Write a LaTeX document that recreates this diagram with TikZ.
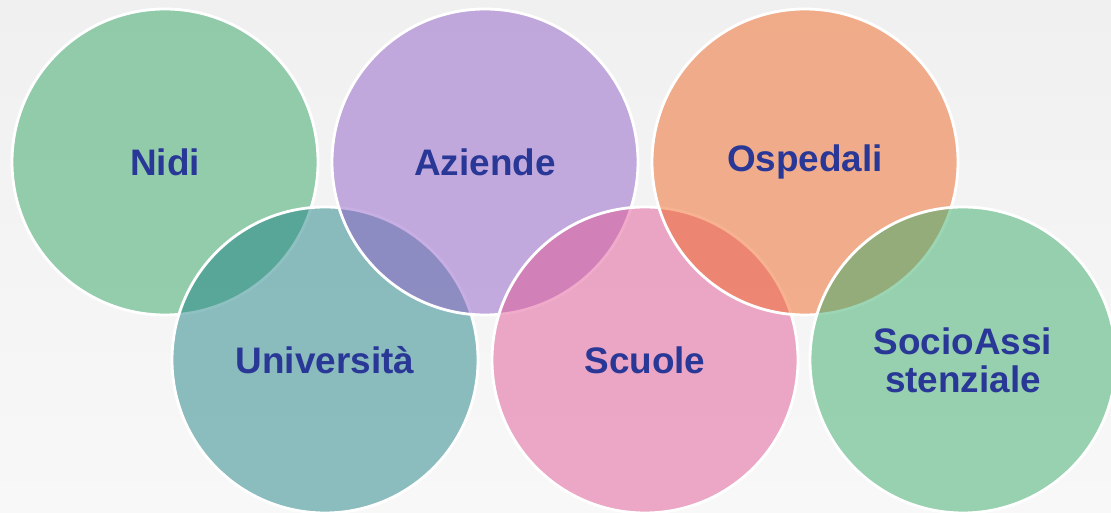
\documentclass[tikz,border=0pt]{standalone}
\usepackage{fontspec}
\setmainfont{Liberation Sans}
\definecolor{bgtop}{RGB}{240,240,240}
\definecolor{bgbot}{RGB}{248,248,248}
\definecolor{labelblue}{RGB}{41,56,150}
\definecolor{nidigreen}{RGB}{50,166,100}
\definecolor{uniteal}{RGB}{32,130,134}
\definecolor{azpurple}{RGB}{146,96,200}
\definecolor{scpink}{RGB}{224,88,148}
\definecolor{ospomange}{RGB}{240,104,36}
\definecolor{sagreen}{RGB}{56,172,104}
\tikzset{
	bubble/.style={circle, minimum size=6.12cm, inner sep=0pt, draw=white, line width=1.6pt,
		fill opacity=0.5, text opacity=1, text=labelblue, align=center,
		font=\fontsize{21}{21.8}\selectfont\bfseries}
}

\begin{document}
\begin{tikzpicture}
		%%%%% BACKGROUND %%%%%
		\useasboundingbox (0, 0) rectangle (22.22, 10.26);
		\shade[top color=bgtop, bottom color=bgbot] (0, 0) rectangle (22.22, 10.26);
		\clip (0, 0) rectangle (22.22, 10.26);
		
		%%%%% CIRCLES %%%%%
		\node[bubble, fill=nidigreen] (nidi) at (3.30, 7.02) {Nidi};
		\node[bubble, fill=uniteal] (universita) at (6.50, 3.06) {Università};
		\node[bubble, fill=azpurple] (aziende) at (9.70, 7.02) {Aziende};
		\node[bubble, fill=scpink] (scuole) at (12.90, 3.06) {Scuole};
		\node[bubble, fill=ospomange] (ospedali) at (16.10, 7.02) {Ospedali};
		\node[bubble, fill=sagreen] (socio) at (19.26, 3.06) {SocioAssi\\stenziale};
		
\end{tikzpicture}
\end{document}
